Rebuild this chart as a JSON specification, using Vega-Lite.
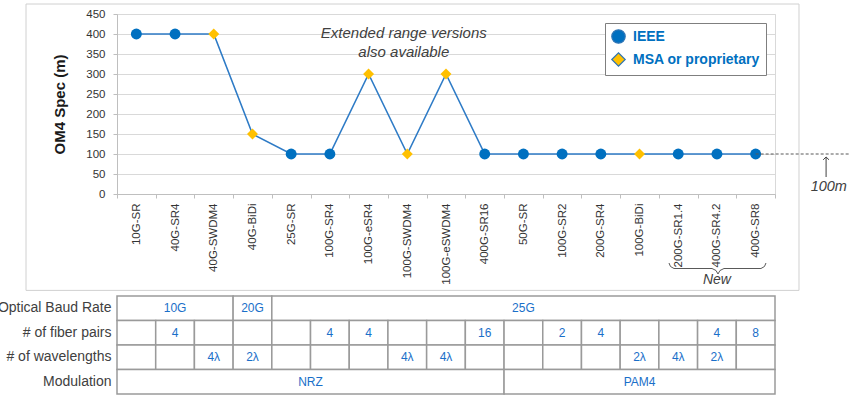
{
  "$schema": "https://vega.github.io/schema/vega-lite/v6.json",
  "padding": {"left": -3, "top": 2, "right": 0, "bottom": 0},
  "bounds": "flush",
  "spacing": 102,
  "config": {"font": "Liberation Sans", "view": {"stroke": null}},
  "datasets": {
    "products": [
      {"product": "10G-SR", "om4": 400, "type": "IEEE"},
      {"product": "40G-SR4", "om4": 400, "type": "IEEE"},
      {"product": "40G-SWDM4", "om4": 400, "type": "MSA or proprietary"},
      {"product": "40G-BiDi", "om4": 150, "type": "MSA or proprietary"},
      {"product": "25G-SR", "om4": 100, "type": "IEEE"},
      {"product": "100G-SR4", "om4": 100, "type": "IEEE"},
      {"product": "100G-eSR4", "om4": 300, "type": "MSA or proprietary"},
      {"product": "100G-SWDM4", "om4": 100, "type": "MSA or proprietary"},
      {"product": "100G-eSWDM4", "om4": 300, "type": "MSA or proprietary"},
      {"product": "400G-SR16", "om4": 100, "type": "IEEE"},
      {"product": "50G-SR", "om4": 100, "type": "IEEE"},
      {"product": "100G-SR2", "om4": 100, "type": "IEEE"},
      {"product": "200G-SR4", "om4": 100, "type": "IEEE"},
      {"product": "100G-BiDi", "om4": 100, "type": "MSA or proprietary"},
      {"product": "200G-SR1.4", "om4": 100, "type": "IEEE"},
      {"product": "400G-SR4.2", "om4": 100, "type": "IEEE"},
      {"product": "400G-SR8", "om4": 100, "type": "IEEE"}
    ],
    "table": [
      {"id": "a1", "row": "Optical Baud Rate", "label": "10G", "from": 0, "to": 3},
      {"id": "a2", "row": "Optical Baud Rate", "label": "20G", "from": 3, "to": 4},
      {"id": "a3", "row": "Optical Baud Rate", "label": "25G", "from": 4, "to": 17},
      {"id": "b1", "row": "# of fiber pairs", "label": "", "from": 0, "to": 1},
      {"id": "b2", "row": "# of fiber pairs", "label": "4", "from": 1, "to": 2},
      {"id": "b3", "row": "# of fiber pairs", "label": "", "from": 2, "to": 3},
      {"id": "b4", "row": "# of fiber pairs", "label": "", "from": 3, "to": 4},
      {"id": "b5", "row": "# of fiber pairs", "label": "", "from": 4, "to": 5},
      {"id": "b6", "row": "# of fiber pairs", "label": "4", "from": 5, "to": 6},
      {"id": "b7", "row": "# of fiber pairs", "label": "4", "from": 6, "to": 7},
      {"id": "b8", "row": "# of fiber pairs", "label": "", "from": 7, "to": 8},
      {"id": "b9", "row": "# of fiber pairs", "label": "", "from": 8, "to": 9},
      {"id": "b10", "row": "# of fiber pairs", "label": "16", "from": 9, "to": 10},
      {"id": "b11", "row": "# of fiber pairs", "label": "", "from": 10, "to": 11},
      {"id": "b12", "row": "# of fiber pairs", "label": "2", "from": 11, "to": 12},
      {"id": "b13", "row": "# of fiber pairs", "label": "4", "from": 12, "to": 13},
      {"id": "b14", "row": "# of fiber pairs", "label": "", "from": 13, "to": 14},
      {"id": "b15", "row": "# of fiber pairs", "label": "", "from": 14, "to": 15},
      {"id": "b16", "row": "# of fiber pairs", "label": "4", "from": 15, "to": 16},
      {"id": "b17", "row": "# of fiber pairs", "label": "8", "from": 16, "to": 17},
      {"id": "c1", "row": "# of wavelengths", "label": "", "from": 0, "to": 1},
      {"id": "c2", "row": "# of wavelengths", "label": "", "from": 1, "to": 2},
      {"id": "c3", "row": "# of wavelengths", "label": "4λ", "from": 2, "to": 3},
      {"id": "c4", "row": "# of wavelengths", "label": "2λ", "from": 3, "to": 4},
      {"id": "c5", "row": "# of wavelengths", "label": "", "from": 4, "to": 5},
      {"id": "c6", "row": "# of wavelengths", "label": "", "from": 5, "to": 6},
      {"id": "c7", "row": "# of wavelengths", "label": "", "from": 6, "to": 7},
      {"id": "c8", "row": "# of wavelengths", "label": "4λ", "from": 7, "to": 8},
      {"id": "c9", "row": "# of wavelengths", "label": "4λ", "from": 8, "to": 9},
      {"id": "c10", "row": "# of wavelengths", "label": "", "from": 9, "to": 10},
      {"id": "c11", "row": "# of wavelengths", "label": "", "from": 10, "to": 11},
      {"id": "c12", "row": "# of wavelengths", "label": "", "from": 11, "to": 12},
      {"id": "c13", "row": "# of wavelengths", "label": "", "from": 12, "to": 13},
      {"id": "c14", "row": "# of wavelengths", "label": "2λ", "from": 13, "to": 14},
      {"id": "c15", "row": "# of wavelengths", "label": "4λ", "from": 14, "to": 15},
      {"id": "c16", "row": "# of wavelengths", "label": "2λ", "from": 15, "to": 16},
      {"id": "c17", "row": "# of wavelengths", "label": "", "from": 16, "to": 17},
      {"id": "d1", "row": "Modulation", "label": "NRZ", "from": 0, "to": 10},
      {"id": "d2", "row": "Modulation", "label": "PAM4", "from": 10, "to": 17}
    ]
  },
  "vconcat": [
    {
      "width": 658,
      "height": 180,
      "view": {"stroke": "#d9d9d9"},
      "resolve": {"scale": {"x": "independent", "y": "independent"}},
      "layer": [
        {
          "data": {"name": "products"},
          "encoding": {
            "x": {"field": "product", "type": "nominal", "sort": null,
              "scale": {"type": "band", "paddingInner": 0, "paddingOuter": 0},
              "axis": {"title": null, "labelAngle": -90, "labelFontSize": 11.5, "labelColor": "#333333",
                "tickBand": "extent", "tickSize": 4, "tickColor": "#bfbfbf", "domainColor": "#bfbfbf",
                "labelPadding": 5, "grid": false}},
            "y": {"field": "om4", "type": "quantitative",
              "scale": {"domain": [0, 450], "nice": false},
              "axis": {"title": "OM4 Spec (m)", "titleFontSize": 15, "titleFontWeight": "bold", "titleColor": "#1a1a1a",
                "titlePadding": 18, "values": [0, 50, 100, 150, 200, 250, 300, 350, 400, 450], "labelOverlap": false,
                "labelFontSize": 11.5, "labelColor": "#333333", "tickSize": 4, "tickColor": "#bfbfbf",
                "domainColor": "#bfbfbf", "gridColor": "#d9d9d9", "labelPadding": 8}}
          },
          "layer": [
            {
              "mark": {"type": "line", "color": "#2e7bc6", "strokeWidth": 1.6}
            },
            {
              "mark": {"type": "point", "filled": true, "opacity": 1, "size": 120, "strokeWidth": 0},
              "encoding": {
                "color": {"field": "type", "type": "nominal",
                  "scale": {"domain": ["IEEE", "MSA or proprietary"], "range": ["#0070c0", "#ffc000"]},
                  "legend": {"title": null, "orient": "top-right", "offset": 9, "strokeColor": "#7f7f7f",
                    "fillColor": "white", "padding": 6, "labelFontSize": 14, "labelFontWeight": "bold",
                    "labelColor": "#0070c0", "symbolSize": 180, "labelOffset": 7, "rowPadding": 4,
                    "symbolStrokeColor": "#2e75b6", "symbolStrokeWidth": 1.2}},
                "shape": {"field": "type", "type": "nominal",
                  "scale": {"domain": ["IEEE", "MSA or proprietary"], "range": ["circle", "diamond"]}}
              }
            }
          ]
        },
        {
          "layer": [
            {
              "data": {"values": [{"x": -2.351, "x2": 17.62, "y": 475, "y2": -241}]},
              "mark": {"type": "rect", "fill": null, "fillOpacity": 0, "stroke": "#d0d0d0", "strokeWidth": 1, "clip": false},
              "encoding": {
                "x": {"field": "x", "type": "quantitative", "scale": {"domain": [0, 17], "nice": false, "zero": false}, "axis": null},
                "x2": {"field": "x2"},
                "y": {"field": "y", "type": "quantitative", "scale": {"domain": [0, 450], "nice": false}, "axis": null},
                "y2": {"field": "y2"}
              }
            },
            {
              "data": {"values": [{"x": 16.5, "x2": 18.91, "y": 100}]},
              "mark": {"type": "rule", "color": "#595959", "strokeDash": [3, 2], "strokeWidth": 1, "clip": false},
              "encoding": {
                "x": {"field": "x", "type": "quantitative"},
                "x2": {"field": "x2"},
                "y": {"field": "y", "type": "quantitative"}
              }
            },
            {
              "data": {"values": [{"x": 18.32, "y": 42.5, "y2": 92}]},
              "mark": {"type": "rule", "color": "#404040", "strokeWidth": 1, "clip": false},
              "encoding": {
                "x": {"field": "x", "type": "quantitative"},
                "y": {"field": "y", "type": "quantitative"},
                "y2": {"field": "y2"}
              }
            },
            {
              "data": {"values": [
                {"o": 1, "x": 18.245, "y": 85.5},
                {"o": 2, "x": 18.32, "y": 92.5},
                {"o": 3, "x": 18.395, "y": 85.5}
              ]},
              "mark": {"type": "line", "color": "#404040", "strokeWidth": 1, "clip": false},
              "encoding": {
                "x": {"field": "x", "type": "quantitative"},
                "y": {"field": "y", "type": "quantitative"},
                "order": {"field": "o"}
              }
            },
            {
              "data": {"values": [{"x": 18.39, "y": 18.5, "label": "100m"}]},
              "mark": {"type": "text", "fontStyle": "italic", "fontSize": 14.5, "color": "#404040", "baseline": "middle", "clip": false},
              "encoding": {
                "x": {"field": "x", "type": "quantitative"},
                "y": {"field": "y", "type": "quantitative"},
                "text": {"field": "label"}
              }
            },
            {
              "data": {"values": [{"x": 7.41, "y": 402, "label": "Extended range versions\nalso available"}]},
              "mark": {"type": "text", "fontStyle": "italic", "fontSize": 15, "color": "#404040", "baseline": "middle",
                "lineBreak": "\n", "lineHeight": 18.5, "clip": false},
              "encoding": {
                "x": {"field": "x", "type": "quantitative"},
                "y": {"field": "y", "type": "quantitative"},
                "text": {"field": "label"}
              }
            },
            {
              "data": {"values": [
                {"o": 1, "x": 14.261, "y": -172.5},
                {"o": 2, "x": 14.3, "y": -181.25},
                {"o": 3, "x": 14.391, "y": -186.25},
                {"o": 4, "x": 15.373, "y": -186.25},
                {"o": 5, "x": 15.476, "y": -191.25},
                {"o": 6, "x": 15.527, "y": -200},
                {"o": 7, "x": 15.579, "y": -191.25},
                {"o": 8, "x": 15.682, "y": -186.25},
                {"o": 9, "x": 16.637, "y": -186.25},
                {"o": 10, "x": 16.728, "y": -181.25},
                {"o": 11, "x": 16.767, "y": -172.5}
              ]},
              "mark": {"type": "line", "color": "#595959", "strokeWidth": 1, "clip": false},
              "encoding": {
                "x": {"field": "x", "type": "quantitative"},
                "y": {"field": "y", "type": "quantitative"},
                "order": {"field": "o"}
              }
            },
            {
              "data": {"values": [{"x": 15.5, "y": -215, "label": "New"}]},
              "mark": {"type": "text", "fontStyle": "italic", "fontSize": 14, "color": "#404040", "baseline": "middle", "clip": false},
              "encoding": {
                "x": {"field": "x", "type": "quantitative"},
                "y": {"field": "y", "type": "quantitative"},
                "text": {"field": "label"}
              }
            }
          ]
        }
      ]
    },
    {
      "width": 658,
      "height": 98,
      "data": {"name": "table"},
      "layer": [
        {
          "mark": {"type": "rect", "fill": "white", "stroke": "#9a9a9a", "strokeWidth": 1.5},
          "encoding": {
            "x": {"field": "from", "type": "quantitative", "scale": {"domain": [0, 17], "nice": false, "zero": false}, "axis": null},
            "x2": {"field": "to"},
            "y": {"field": "row", "type": "nominal",
              "scale": {"domain": ["Optical Baud Rate", "# of fiber pairs", "# of wavelengths", "Modulation"], "paddingInner": 0, "paddingOuter": 0},
              "axis": {"title": null, "domain": false, "ticks": false, "labelFontSize": 14, "labelColor": "#404040", "labelPadding": 6}}
          }
        },
        {
          "transform": [{"fold": ["from", "to"], "as": ["edge", "pos"]}],
          "mark": {"type": "text", "color": "#1a6fc9", "fontSize": 12},
          "encoding": {
            "x": {"aggregate": "mean", "field": "pos", "type": "quantitative"},
            "y": {"field": "row", "type": "nominal"},
            "text": {"field": "label"},
            "detail": {"field": "id"}
          }
        }
      ]
    }
  ]
}
